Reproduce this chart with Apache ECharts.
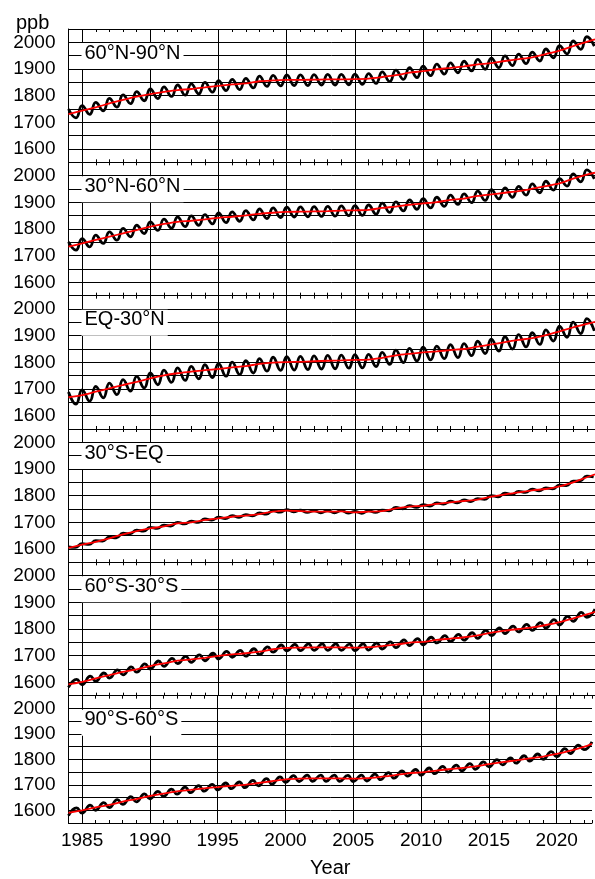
<!DOCTYPE html>
<html>
<head>
<meta charset="utf-8">
<script src="https://cdn.jsdelivr.net/npm/echarts@6/dist/echarts.min.js"></script>
<style>
html, body { margin: 0; padding: 0; background: #fff; }
#chart { width: 595px; height: 879px; }
</style>
</head>
<body>
<div id="chart"></div>
<script>
// Methane mole fraction (ppb) by latitude band, 1984-2022.
const years = [1984, 1985, 1986, 1987, 1988, 1989, 1990, 1991, 1992, 1993,
  1994, 1995, 1996, 1997, 1998, 1999, 2000, 2001, 2002, 2003,
  2004, 2005, 2006, 2007, 2008, 2009, 2010, 2011, 2012, 2013,
  2014, 2015, 2016, 2017, 2018, 2019, 2020, 2021, 2022];
// trend curve is sampled at the start of each year plus the right edge of the axis
const trendYears = years.concat([2022.6]);
const yearTicks = [1985, 1990, 1995, 2000, 2005, 2010, 2015, 2020];
const ppbTicks = [1600, 1700, 1800, 1900, 2000];
const regionNames = ['60°N-90°N', '30°N-60°N', 'EQ-30°N', '30°S-EQ', '60°S-30°S', '90°S-60°S'];

// 60°N-90°N
const trendN90 = [1731,1744,1756,1771,1784,1796,1806,1814,1821,1825,1831,1837,1842,1846,1854,1857,1859,1859,1860,1861,1861,1862,1864,1870,1877,1886,1892,1899,1904,1910,1917,1922,1930,1937,1944,1956,1969,1986,2002,2011];
const peakN90 = [1750,1763,1775,1790,1803,1815,1825,1833,1840,1844,1850,1856,1861,1865,1873,1876,1878,1878,1879,1880,1880,1881,1883,1889,1896,1905,1911,1918,1923,1929,1936,1941,1949,1956,1963,1975,1988,2005,2021];
const troughN90 = [1717,1730,1743,1757,1770,1781,1789,1797,1802,1807,1813,1819,1823,1829,1835,1837,1838,1838,1840,1840,1841,1842,1846,1853,1861,1868,1875,1881,1886,1893,1899,1905,1913,1920,1930,1942,1957,1974,1986];

// 30°N-60°N
const trendN60 = [1734,1746,1759,1771,1784,1796,1809,1819,1827,1831,1836,1842,1846,1851,1857,1861,1864,1865,1866,1867,1869,1870,1872,1879,1884,1891,1896,1901,1909,1914,1924,1930,1936,1942,1951,1961,1971,1989,2004,2011];
const peakN60 = [1752,1764,1777,1789,1802,1814,1827,1837,1845,1849,1854,1860,1864,1869,1875,1879,1882,1883,1884,1885,1887,1888,1890,1897,1902,1909,1914,1919,1927,1932,1942,1948,1954,1960,1969,1979,1989,2007,2022];
const troughN60 = [1721,1733,1746,1758,1771,1783,1795,1803,1809,1814,1819,1824,1829,1834,1839,1843,1845,1846,1847,1848,1850,1851,1856,1862,1868,1874,1879,1885,1892,1899,1907,1913,1919,1927,1936,1946,1961,1977,1988];

// EQ-30°N
const trendN30 = [1669,1677,1690,1702,1715,1727,1740,1751,1759,1765,1771,1775,1781,1786,1794,1799,1801,1802,1804,1806,1807,1809,1810,1817,1826,1832,1837,1841,1846,1850,1859,1867,1876,1884,1891,1902,1916,1931,1944,1952];
const peakN30 = [1689,1697,1710,1722,1735,1747,1760,1771,1779,1785,1791,1795,1801,1806,1814,1819,1821,1822,1824,1826,1827,1829,1830,1837,1846,1852,1857,1861,1866,1870,1879,1887,1896,1904,1911,1922,1936,1951,1964];
const troughN30 = [1643,1654,1667,1679,1692,1704,1716,1725,1732,1738,1743,1748,1754,1760,1767,1770,1771,1773,1775,1776,1778,1779,1784,1792,1799,1805,1809,1814,1818,1825,1833,1842,1850,1858,1867,1880,1894,1908,1918];

// 30°S-EQ
const trendS00 = [1604,1616,1627,1640,1655,1667,1677,1685,1696,1700,1709,1715,1721,1725,1731,1740,1744,1742,1740,1740,1741,1737,1740,1742,1752,1759,1762,1769,1775,1780,1785,1796,1805,1812,1820,1825,1835,1850,1869,1880];
const peakS00 = [1608,1620,1631,1644,1659,1671,1681,1689,1700,1704,1713,1719,1725,1729,1735,1744,1748,1746,1744,1744,1745,1741,1744,1746,1756,1763,1766,1773,1779,1784,1789,1800,1809,1816,1824,1829,1839,1854,1873];
const troughS00 = [1606,1617,1630,1642,1657,1667,1677,1686,1694,1700,1708,1714,1719,1724,1731,1738,1739,1737,1736,1736,1735,1734,1737,1743,1751,1756,1761,1768,1773,1778,1786,1796,1804,1812,1818,1826,1838,1855,1870];

// 60°S-30°S
const trendS30 = [1592,1602,1615,1627,1639,1649,1661,1671,1681,1686,1692,1699,1705,1709,1715,1724,1729,1730,1731,1731,1731,1730,1732,1736,1741,1749,1752,1759,1764,1769,1776,1786,1794,1800,1806,1815,1826,1840,1855,1864];
const peakS30 = [1611,1623,1635,1647,1658,1669,1680,1690,1697,1703,1709,1716,1720,1726,1733,1740,1742,1744,1744,1744,1743,1744,1747,1752,1759,1764,1769,1775,1780,1786,1795,1804,1811,1817,1824,1835,1847,1862,1875];
const troughS30 = [1581,1591,1604,1616,1628,1638,1650,1660,1670,1675,1681,1688,1694,1698,1704,1713,1718,1719,1720,1720,1720,1719,1721,1725,1730,1738,1741,1748,1753,1758,1765,1775,1783,1789,1795,1804,1815,1829,1844];

// 90°S-60°S
const trendS60 = [1590,1600,1611,1621,1634,1644,1656,1665,1674,1680,1686,1691,1696,1700,1707,1714,1721,1724,1725,1725,1725,1724,1726,1731,1737,1745,1749,1755,1761,1766,1772,1781,1789,1796,1804,1811,1821,1834,1849,1861];
const peakS60 = [1609,1620,1630,1642,1653,1664,1674,1683,1691,1697,1702,1707,1711,1717,1724,1731,1736,1738,1738,1738,1737,1738,1742,1748,1755,1760,1766,1772,1777,1783,1790,1799,1806,1814,1821,1830,1842,1856,1869];
const troughS60 = [1579,1589,1600,1610,1623,1633,1645,1654,1663,1669,1675,1680,1685,1689,1696,1703,1710,1713,1714,1714,1714,1713,1715,1720,1726,1734,1738,1744,1750,1755,1761,1770,1778,1785,1793,1800,1810,1823,1838];

// time of year (fraction) of the seasonal maximum and minimum in each band
const peakTiming = [0.0, 0.0, 0.0, 0.0, 0.6, 0.6];
const troughTiming = [0.55, 0.55, 0.55, 0.5, 0.0, 0.0];

const bands = [
  { trend: trendN90, peak: peakN90, trough: troughN90 },
  { trend: trendN60, peak: peakN60, trough: troughN60 },
  { trend: trendN30, peak: peakN30, trough: troughN30 },
  { trend: trendS00, peak: peakS00, trough: troughS00 },
  { trend: trendS30, peak: peakS30, trough: troughS30 },
  { trend: trendS60, peak: peakS60, trough: troughS60 }
];

const FONT = 'Liberation Sans, Arial, Helvetica, sans-serif';
const PLOT_LEFT = 68.5;
const PLOT_WIDTH = 528;
const PLOT_TOP = 29;
const PANEL_H = 133.333;
const X_MIN = 1984;
const X_MAX = 2022.6;

// only every fifth year gets a vertical grid line
const yearLineColors = years.map(y => yearTicks.includes(y) ? '#000' : 'rgba(0,0,0,0)');

const grids = [], xAxes = [], yAxes = [], series = [], titles = [];

bands.forEach((band, i) => {
  const top = PLOT_TOP + i * PANEL_H;
  const last = i === bands.length - 1;
  grids.push({
    left: PLOT_LEFT, top: top, width: PLOT_WIDTH, height: PANEL_H, show: false
  });
  xAxes.push({
    gridIndex: i, type: 'value', position: 'bottom',
    min: X_MIN, max: X_MAX, interval: 1,
    axisLine: { show: true, onZero: false, lineStyle: { color: '#000', width: 1 } },
    axisTick: { show: true, inside: true, length: 3, lineStyle: { color: '#000', width: 1 } },
    axisLabel: {
      show: last, color: '#000', fontSize: 19, fontFamily: FONT, margin: 8,
      formatter: v => yearTicks.includes(v) ? String(v) : ''
    },
    splitLine: { show: true, showMaxLine: false, lineStyle: { color: yearLineColors, width: 1 } },
    name: last ? 'Year' : '', nameLocation: 'middle', nameGap: 35,
    nameTextStyle: { color: '#000', fontSize: 20, fontFamily: FONT }
  });
  xAxes.push({
    gridIndex: i, type: 'value', position: 'top',
    min: X_MIN, max: X_MAX, interval: 1,
    axisLine: { show: true, onZero: false, lineStyle: { color: '#000', width: 1 } },
    axisTick: { show: true, inside: true, length: 3, lineStyle: { color: '#000', width: 1 } },
    axisLabel: { show: false },
    splitLine: { show: false }
  });
  yAxes.push({
    gridIndex: i, type: 'value', min: 1550, max: 2050, interval: 50,
    axisLine: { show: true, onZero: false, lineStyle: { color: '#000', width: 1 } },
    axisTick: { show: false },
    axisLabel: {
      color: '#000', fontSize: 19, fontFamily: FONT, margin: 13,
      formatter: v => ppbTicks.includes(v) ? String(v) : ''
    },
    splitLine: { show: true, lineStyle: { color: '#000', width: 1 } }
  });

  // seasonal cycle: alternate yearly maxima and minima
  const cycle = [];
  years.forEach((y, k) => {
    cycle.push([y + peakTiming[i], band.peak[k]]);
    cycle.push([y + troughTiming[i], band.trough[k]]);
  });
  cycle.sort((a, b) => a[0] - b[0]);

  series.push({
    type: 'line', xAxisIndex: 2 * i, yAxisIndex: i,
    data: cycle, symbol: 'none', smooth: 0.5, clip: true,
    lineStyle: { color: '#000', width: 2.8 }, z: 3, silent: true
  });
  series.push({
    type: 'line', xAxisIndex: 2 * i, yAxisIndex: i,
    data: trendYears.map((y, k) => [y, band.trend[k]]),
    symbol: 'none', smooth: 0.3, clip: true,
    lineStyle: { color: '#ff0000', width: 1.8 }, z: 4, silent: true
  });

  titles.push({
    text: regionNames[i], left: 81.5, top: top + 16,
    backgroundColor: '#fff', padding: [0, 3, 6, 3],
    textStyle: { color: '#000', fontSize: 20, fontWeight: 'normal', fontFamily: FONT, lineHeight: 16 }
  });
});

titles.push({
  text: 'ppb', left: 16, top: 13, padding: 0,
  textStyle: { color: '#000', fontSize: 20, fontWeight: 'normal', fontFamily: FONT, lineHeight: 20 }
});

const chart = echarts.init(document.getElementById('chart'), null, { renderer: 'canvas' });
chart.setOption({
  animation: false,
  backgroundColor: '#fff',
  title: titles,
  grid: grids,
  xAxis: xAxes,
  yAxis: yAxes,
  series: series
});
</script>
</body>
</html>
